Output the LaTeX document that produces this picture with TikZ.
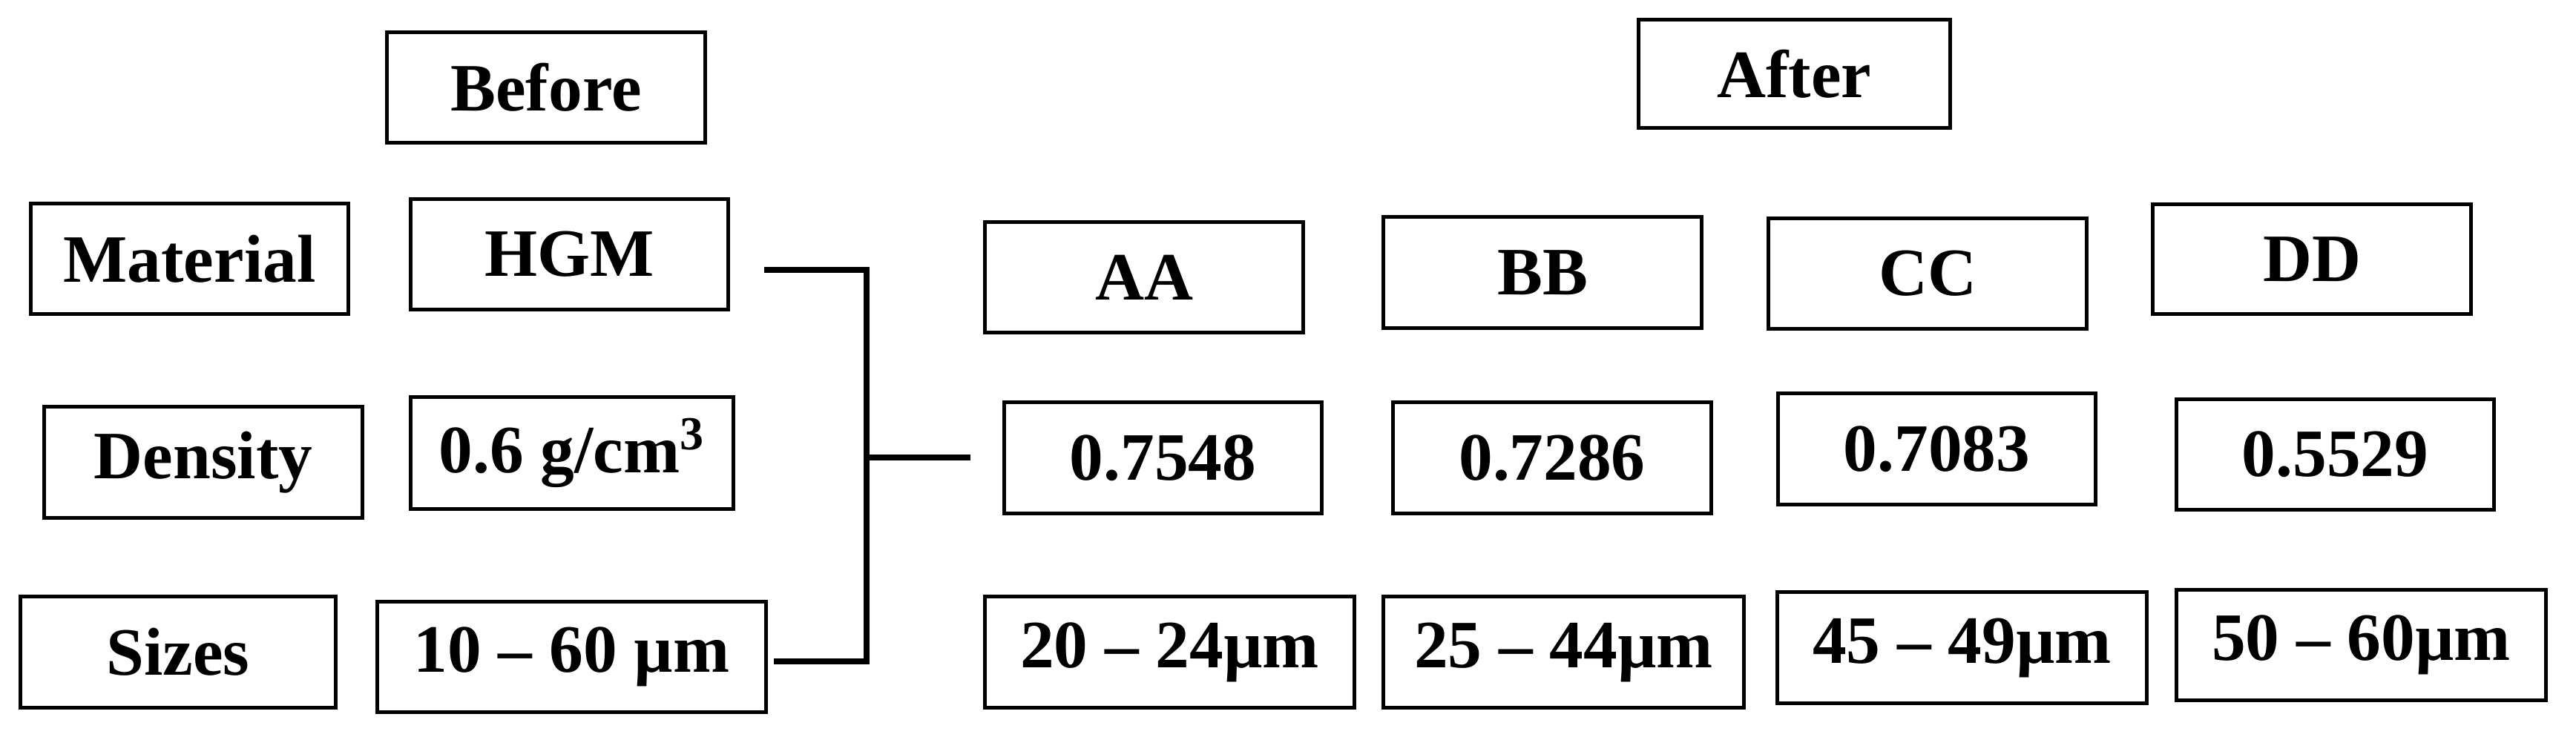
\documentclass[tikz,border=0pt]{standalone}
\usepackage{fontspec}
\setmainfont{Liberation Serif}
\tikzset{
  box/.style={draw, line width=0.05cm, inner sep=0pt, align=center,
    font=\fontsize{26}{30}\selectfont\bfseries},
  conn/.style={line width=0.08cm}
}
% helper: \bx[style]{name}{x1}{x2}{y1}{y2}{text}  (pixel coords)
\newcommand{\bx}[7][box]{%
  \pgfmathsetmacro{\cx}{(#3+#4)/200}%
  \pgfmathsetmacro{\cy}{-(#5+#6)/200}%
  \pgfmathsetmacro{\ww}{(#4-#3-5)/100}%
  \pgfmathsetmacro{\hh}{(#6-#5-5)/100}%
  \node[#1, minimum width=\ww cm, minimum height=\hh cm] (#2) at (\cx,\cy) {#7};%
}
\begin{document}
\begin{tikzpicture}
\useasboundingbox (0,0) rectangle (34.72,-9.94);
\bx{before}{519}{953}{41}{195}{Before}
\bx{after}{2206}{2631}{24}{175}{After}
\bx{material}{39}{472}{272}{426}{Material}
\bx{hgm}{551}{984}{266}{420}{HGM}
\bx{density}{57}{491}{546}{701}{Density}
\bx{densval}{551}{991}{533}{689}{0.6 g/cm\textsuperscript{3}}
\bx{sizes}{25}{455}{802}{957}{Sizes}
\bx{sizeval}{506}{1035}{809}{963}{10 – 60 µm}
\bx{aa}{1325}{1759}{297}{451}{AA}
\bx{bb}{1862}{2296}{290}{445}{BB}
\bx{cc}{2381}{2815}{292}{446}{CC}
\bx{dd}{2899}{3333}{273}{426}{DD}
\bx{aad}{1351}{1784}{540}{695}{0.7548}
\bx{bbd}{1875}{2309}{540}{695}{0.7286}
\bx{ccd}{2394}{2827}{528}{683}{0.7083}
\bx{ddd}{2931}{3364}{536}{690}{0.5529}
\bx{aas}{1325}{1828}{802}{957}{20 – 24µm}
\bx{bbs}{1862}{2353}{802}{957}{25 – 44µm}
\bx{ccs}{2393}{2896}{796}{951}{45 – 49µm}
\bx{dds}{2931}{3434}{793}{947}{50 – 60µm}
\coordinate (hgmout) at (10.30,-3.64);
\coordinate (sizeout) at (10.43,-8.92);
\coordinate (jtop) at (11.68,-3.64);
\coordinate (jmid) at (11.68,-6.17);
\coordinate (jbot) at (11.68,-8.92);
\coordinate (outend) at (13.08,-6.17);
\draw[conn] (hgmout) -- (jtop) -- (jbot) -- (sizeout);
\draw[conn] (jmid) -- (outend);
\end{tikzpicture}
\end{document}
